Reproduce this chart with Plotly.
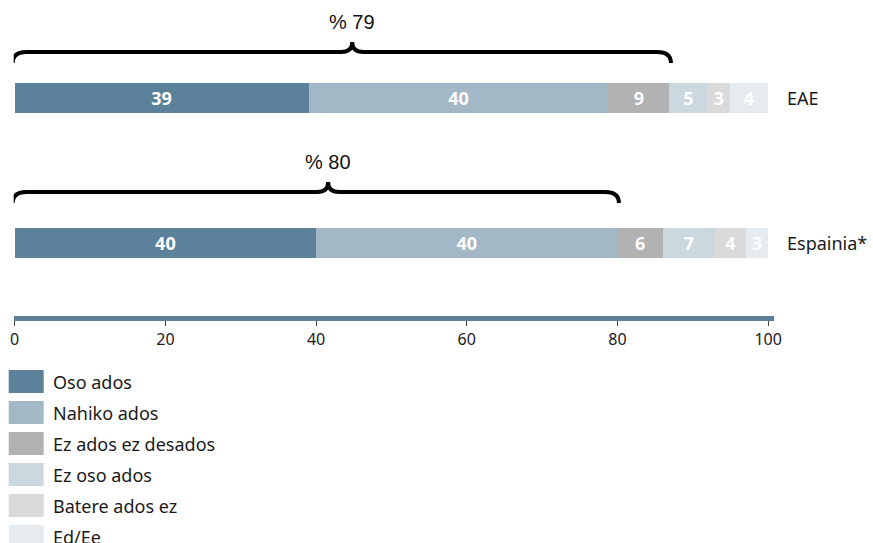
import plotly.graph_objects as go

# ---------------- data ----------------
groups = ["EAE", "Espainia*"]
answers = ["Oso ados", "Nahiko ados", "Ez ados ez desados",
           "Ez oso ados", "Batere ados ez", "Ed/Ee"]

# bar lengths per answer: [EAE, Espainia*]
oso_ados = [39.0, 40.0]
nahiko_ados = [39.8, 40.0]
ez_ados_ez_desados = [8.1, 6.0]
ez_oso_ados = [5.05, 7.0]
batere_ados_ez = [3.0, 4.0]
ed_ee = [5.0, 3.0]

# labels printed on the bars
oso_ados_lbl = ["39", "40"]
nahiko_ados_lbl = ["40", "40"]
ez_ados_ez_desados_lbl = ["9", "6"]
ez_oso_ados_lbl = ["5", "7"]
batere_ados_ez_lbl = ["3", "4"]
ed_ee_lbl = ["4", "3"]

# braces above the bars
brace_labels = ["% 79", "% 80"]
brace_start = [0.0, 0.0]
brace_end = [87.1, 80.2]
brace_peak = [44.8, 41.6]

tick_values = [0, 20, 40, 60, 80, 100]
tick_labels = ["0", "20", "40", "60", "80", "100"]

series = [oso_ados, nahiko_ados, ez_ados_ez_desados, ez_oso_ados, batere_ados_ez, ed_ee]
series_lbl = [oso_ados_lbl, nahiko_ados_lbl, ez_ados_ez_desados_lbl,
              ez_oso_ados_lbl, batere_ados_ez_lbl, ed_ee_lbl]

# ---------------- style / layout ----------------
colors = ["#5b819b", "#a2b8c6", "#b2b2b2", "#cbd8e0", "#dadada", "#e6ebef"]
FONT = "Noto Sans"
W, H = 873, 543
# horizontal calibration of the rendered page (measured): shown = OX + SX * figure_px
SX, OX = 0.987, 3.3


def fx(p):
    """figure-pixel x that appears at screen pixel p"""
    return (p - OX) / SX


PX_X = 7.54          # screen px per x unit
X0_PX = 14           # screen pixel of x = 0
ROW_PX = 145         # px between bar rows
ROW0_PX = 98         # pixel of first row centre
PLOT_BOTTOM = 315.5  # pixel of plot bottom (axis line sits below)
BAR_PX = 30
brace_gap_px = [46, 51]

ypos = list(range(len(groups)))

fig = go.Figure()
for name, vals, lbls, col in zip(answers, series, series_lbl, colors):
    fig.add_trace(go.Bar(
        x=vals, y=ypos, orientation="h", name=name,
        width=BAR_PX / ROW_PX,
        marker=dict(color=col, line=dict(width=0)),
        text=lbls, textposition="inside", insidetextanchor="middle", textangle=0,
        textfont=dict(family=FONT, size=18, color="white", weight="bold"),
        hoverinfo="skip", showlegend=False,
    ))

shapes = []
annotations = []

# braces
rx = 14 / PX_X
rm = 11 / PX_X
for i, g in enumerate(groups):
    yh = ypos[i] - brace_gap_px[i] / ROW_PX
    yp = yh - 10 / ROW_PX
    yc = yh + 11 / ROW_PX
    x0 = brace_start[i] - 2 / PX_X
    x1 = brace_end[i]
    xm = brace_peak[i]
    path = (f"M {x0},{yc} Q {x0},{yh} {x0 + rx},{yh} "
            f"L {xm - rm},{yh} Q {xm},{yh} {xm},{yp} "
            f"Q {xm},{yh} {xm + rm},{yh} "
            f"L {x1 - rx},{yh} Q {x1},{yh} {x1},{yc}")
    shapes.append(dict(type="path", path=path, xref="x", yref="y",
                       line=dict(color="#000000", width=4)))
    annotations.append(dict(x=xm, y=yh - 30 / ROW_PX, xref="x", yref="y",
                            text=brace_labels[i], showarrow=False,
                            xanchor="center", yanchor="middle",
                            font=dict(family="Liberation Sans", size=20, color="#111111")))
    # group label to the right of the bar
    total = sum(s[i] for s in series)
    annotations.append(dict(x=total, y=ypos[i], xref="x", yref="y", xshift=17 / SX,
                            text=g, showarrow=False, xanchor="left", yanchor="middle",
                            font=dict(family=FONT, size=18, color="#1a1a1a")))

# manual legend
LEG_X0, LEG_W, LEG_H, LEG_TOP, LEG_PITCH, LEG_TX = 8, 35, 23, 370, 31, 50
for k, (name, col) in enumerate(zip(answers, colors)):
    top = LEG_TOP + k * LEG_PITCH
    shapes.append(dict(type="rect", xref="paper", yref="paper",
                       x0=fx(LEG_X0) / W, x1=fx(LEG_X0 + LEG_W) / W,
                       y0=1 - (top + LEG_H) / H, y1=1 - top / H,
                       fillcolor=col, line=dict(width=0)))
    annotations.append(dict(x=fx(LEG_TX) / W, y=1 - (top + LEG_H / 2) / H,
                            xref="paper", yref="paper", text=name, showarrow=False,
                            xanchor="left", yanchor="middle",
                            font=dict(family=FONT, size=18, color="#1a1a1a")))

fig.update_layout(
    width=W, height=H,
    margin=dict(l=0, r=0, t=0, b=0),
    paper_bgcolor="white", plot_bgcolor="white",
    barmode="stack", uniformtext=dict(mode=False),
    showlegend=False,
    shapes=shapes, annotations=annotations,
    xaxis=dict(
        domain=[fx(13) / W, fx(774) / W],
        range=[(13 - X0_PX) / PX_X, (774 - X0_PX) / PX_X],
        showgrid=False, zeroline=False,
        showline=True, linecolor="#5b7f99", linewidth=5,
        ticks="outside", ticklen=5, tickcolor="#444444", tickwidth=1,
        tickvals=tick_values, ticktext=tick_labels,
        tickfont=dict(family=FONT, size=16, color="#1a1a1a"),
        fixedrange=True,
    ),
    yaxis=dict(
        domain=[(H - PLOT_BOTTOM) / H, 1],
        range=[(PLOT_BOTTOM - ROW0_PX) / ROW_PX, -ROW0_PX / ROW_PX],
        visible=False, fixedrange=True,
    ),
)
fig.update_traces(constraintext="none")

fig.write_html(
    "out.html",
    config={"responsive": False, "displayModeBar": False},
    post_script="document.body.style.margin='0';document.body.style.overflow='hidden';",
)
